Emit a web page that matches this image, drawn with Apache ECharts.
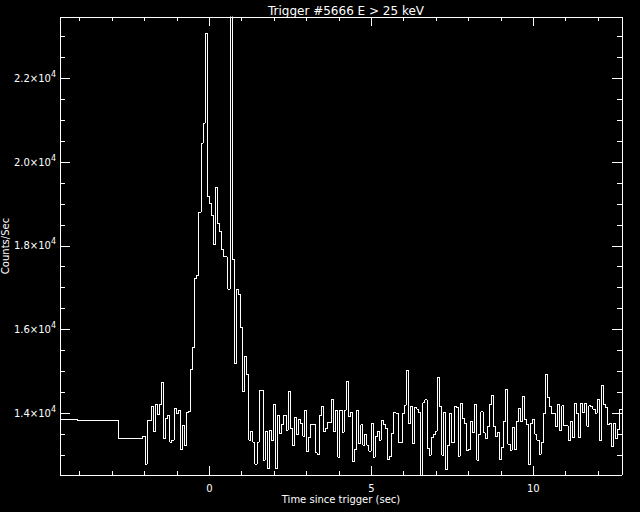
<!DOCTYPE html>
<html>
<head>
<meta charset="utf-8">
<script src="https://cdn.jsdelivr.net/npm/echarts@6/dist/echarts.min.js"></script>
<style>
html,body{margin:0;padding:0;background:#000;}
#chart{width:640px;height:512px;}
#chart svg path{shape-rendering:crispEdges;}
</style>
</head>
<body>
<div id="chart"></div>
<script>
// Pre-trigger (coarse) bins: left edges and counts
const preTimes = [-4.608, -4.083, -2.809];
const preCounts = [13857, 13833, 13403];
// 64 ms bins starting at binStart
const binStart = -2.048;
const binWidth = 0.064;
const endTime = 12.736;
const counts = [
13451,12782,13833,13833,14174,13570,14215,13976,14222,14740,
13403,13881,13952,13315,13355,14119,14000,14072,13140,13713,
13236,14014,14048,15051,15576,17224,17295,18800,20448,20925,
23074,19172,19015,18735,18036,19397,18537,18337,17916,17740,
17725,16961,26000,17678,15194,16961,16842,16054,14525,15368,
14931,13362,13561,13315,12789,13315,14540,14540,12885,13561,
12687,13601,13346,14215,12687,13952,13513,13737,13952,13594,
14525,13649,13236,13904,13489,13864,13761,13458,14072,13083,
13434,13737,13737,13059,13021,13952,14158,13570,13642,13776,
13776,14334,13561,14072,12949,14072,13546,14072,14764,13919,
14024,12854,13140,14072,13284,13721,13243,13499,13243,13100,
13761,12956,13441,13561,13362,13833,13721,13642,12902,12980,
13522,14024,14000,13307,13307,14000,14198,15034,13761,14158,
13284,14143,14103,14024,12300,14253,14318,13164,13004,13417,
13499,13577,14860,14158,13004,14024,12663,13243,14000,13298,
14174,14143,12980,14239,13881,13752,13107,13131,13809,13537,
14215,12878,13506,14038,13537,13403,13680,14215,14430,13697,
13458,13546,12902,13195,13809,14573,13260,13116,13673,13140,
13809,14119,13809,14396,13857,13737,12782,13761,13857,13499,
13362,13021,13307,14000,14931,14382,14158,14000,14000,13680,
14215,13594,14181,13704,13704,13339,13816,13427,14239,14000,
13427,14239,14024,14239,13697,14181,14158,14103,14000,14341,
13355,14659,14215,14143,13737,13761,13202,13761,13403,13625,
14103
];
const xMin = -4.608, xMax = 12.736;
const yMin = 12527, yMax = 23464;
const xMajorTicks = [0, 5, 10];
const xMinorTicks = [-4, -3, -2, -1, 1, 2, 3, 4, 6, 7, 8, 9, 11, 12];
const yMajorTicks = [14000, 16000, 18000, 20000, 22000];
const yMinorTicks = [13000, 13500, 14500, 15000, 15500, 16500, 17000, 17500, 18500, 19000, 19500, 20500, 21000, 21500, 22500, 23000];
const titleText = 'Trigger #5666 E > 25 keV';
const xTitle = 'Time since trigger (sec)';
const yTitle = 'Counts/Sec';

// build step points (left edges), plus final right edge
const pts = [];
for (let i = 0; i < preTimes.length; i++) pts.push([preTimes[i], preCounts[i]]);
for (let i = 0; i < counts.length; i++) pts.push([+(binStart + i * binWidth).toFixed(3), counts[i]]);
pts.push([endTime, counts[counts.length - 1]]);

const FONT = 'DejaVu Sans';
const WHITE = '#ffffff';

function xAx(pos, ticks, len, withLine, withLabel) {
  return {
    type: 'value', position: pos, min: xMin, max: xMax,
    axisLine: {show: withLine, onZero: false, lineStyle: {color: WHITE, width: 1}},
    axisTick: {show: true, inside: true, length: len, customValues: ticks, lineStyle: {color: WHITE, width: 1}},
    axisLabel: withLabel ? {show: true, customValues: ticks, color: WHITE, fontFamily: FONT, fontSize: 10, margin: 8} : {show: false},
    splitLine: {show: false}
  };
}
function yAx(pos, ticks, len, withLine, withLabel) {
  return {
    type: 'value', position: pos, min: yMin, max: yMax,
    axisLine: {show: withLine, onZero: false, lineStyle: {color: WHITE, width: 1}},
    axisTick: {show: true, inside: true, length: len, customValues: ticks, lineStyle: {color: WHITE, width: 1}},
    axisLabel: withLabel ? {
      show: true, customValues: ticks, margin: 4,
      formatter: v => '{m|' + (v / 10000).toFixed(1) + '×10}{s|4}',
      rich: {
        m: {color: WHITE, fontFamily: FONT, fontSize: 10},
        s: {color: WHITE, fontFamily: FONT, fontSize: 8, padding: [0, 0, 8, 0]}
      }
    } : {show: false},
    splitLine: {show: false}
  };
}

const xAxes = [
  xAx('bottom', xMajorTicks, 9, true, true),
  xAx('bottom', xMinorTicks, 4, false, false),
  xAx('top', xMajorTicks, 9, true, false),
  xAx('top', xMinorTicks, 4, false, false)
];
xAxes[0].name = xTitle;
xAxes[0].nameLocation = 'middle';
xAxes[0].nameGap = 19;
xAxes[0].nameMoveOverlap = false;
xAxes[0].nameTextStyle = {color: WHITE, fontFamily: FONT, fontSize: 10};

const yAxes = [
  yAx('left', yMajorTicks, 10, true, true),
  yAx('left', yMinorTicks, 5, false, false),
  yAx('right', yMajorTicks, 10, true, false),
  yAx('right', yMinorTicks, 5, false, false)
];
yAxes[0].name = yTitle;
yAxes[0].nameLocation = 'middle';
yAxes[0].nameGap = 50;
yAxes[0].nameRotate = 90;
yAxes[0].nameMoveOverlap = false;
yAxes[0].nameTextStyle = {color: WHITE, fontFamily: FONT, fontSize: 10};

const chart = echarts.init(document.getElementById('chart'), null, {renderer: 'svg'});
chart.setOption({
  backgroundColor: '#000000',
  animation: false,
  title: {
    text: titleText, left: 341, top: 0, textAlign: 'center',
    textStyle: {color: WHITE, fontFamily: FONT, fontSize: 12, fontWeight: 'normal'}
  },
  grid: {left: 60, right: 18, top: 17, bottom: 37, containLabel: false, outerBoundsMode: 'none'},
  xAxis: xAxes,
  yAxis: yAxes,
  series: [{
    type: 'line', step: 'end', data: pts, xAxisIndex: 0, yAxisIndex: 0,
    showSymbol: false, symbol: 'none', clip: true,
    lineStyle: {color: WHITE, width: 1}
  }]
});
</script>
</body>
</html>
